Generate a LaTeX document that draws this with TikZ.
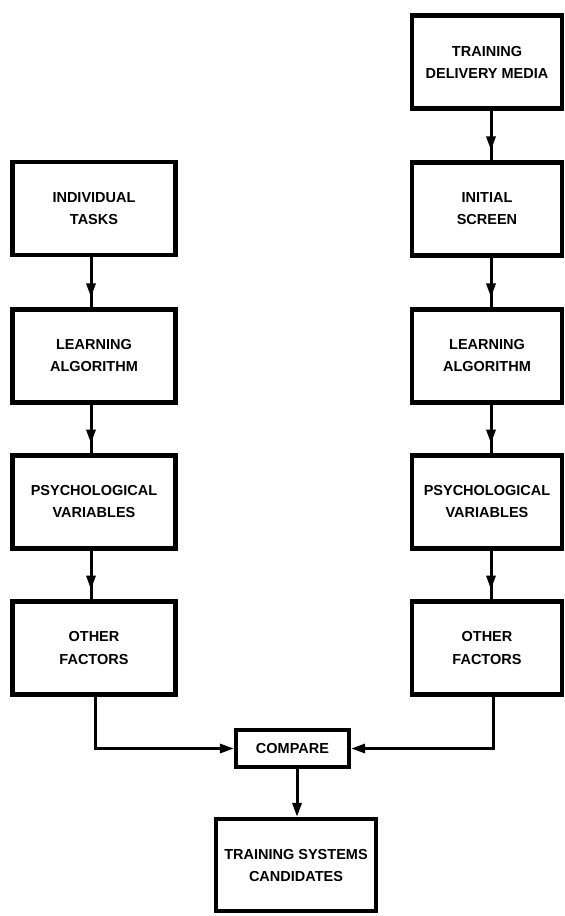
\documentclass[tikz,border=0pt]{standalone}
\usepackage{fontspec}
\setmainfont{Liberation Sans}
\usetikzlibrary{arrows.meta,decorations.markings}

\begin{document}
\begin{tikzpicture}[x=1pt,y=-1pt,
  box/.style={draw, line width=4.2pt, align=center, inner sep=0pt,
    font=\bfseries\fontsize{14.5}{22}\selectfont},
  lbox/.style={box, minimum width=163pt, minimum height=93pt},
  rbox/.style={box, minimum width=150pt, minimum height=93pt},
  flowtip/.tip={Triangle[length=14pt,width=9pt]},
  link/.style={line width=3pt},
  midlink/.style={link, postaction={decorate},
    decoration={markings, mark=at position 0.8 with {\arrow{flowtip}}}},
  endlink/.style={link, -{flowtip}},
]
\useasboundingbox (0,0) rectangle (565,916);

% left column
\node[lbox] (it)  at (94,208.5) {INDIVIDUAL\\TASKS};
\node[lbox] (lla) at (94,356)   {LEARNING\\ALGORITHM};
\node[lbox] (lpv) at (94,502)   {PSYCHOLOGICAL\\VARIABLES};
\node[lbox] (lof) at (94,648)   {OTHER\\FACTORS};

% right column
\node[rbox] (tdm) at (487,62)    {TRAINING\\DELIVERY MEDIA};
\node[rbox] (is)  at (487,209)   {INITIAL\\SCREEN};
\node[rbox] (rla) at (487,356)   {LEARNING\\ALGORITHM};
\node[rbox] (rpv) at (487,502)   {PSYCHOLOGICAL\\VARIABLES};
\node[rbox] (rof) at (487,648)   {OTHER\\FACTORS};

% merge and result
\node[box, minimum width=113pt, minimum height=37pt] (cmp) at (292.5,748.5) {COMPARE};
\node[box, minimum width=160pt, minimum height=92pt] (tsc) at (296,865) {TRAINING SYSTEMS\\CANDIDATES};

% flow down the left column
\draw[midlink] ([xshift=-3pt]it.south)  -- ([xshift=-3pt]lla.north);
\draw[midlink] ([xshift=-3pt]lla.south) -- ([xshift=-3pt]lpv.north);
\draw[midlink] ([xshift=-3pt]lpv.south) -- ([xshift=-3pt]lof.north);

% flow down the right column
\draw[midlink] ([xshift=4pt]tdm.south) -- ([xshift=4pt]is.north);
\draw[midlink] ([xshift=4pt]is.south)  -- ([xshift=4pt]rla.north);
\draw[midlink] ([xshift=4pt]rla.south) -- ([xshift=4pt]rpv.north);
\draw[midlink] ([xshift=4pt]rpv.south) -- ([xshift=4pt]rof.north);

% both columns feed the comparison
\draw[endlink] ([xshift=1pt]lof.south) |- (cmp.west);
\draw[endlink] ([xshift=6pt]rof.south) |- (cmp.east);
\draw[endlink] ([xshift=4.5pt]cmp.south) -- ([xshift=1pt]tsc.north);
\end{tikzpicture}
\end{document}
